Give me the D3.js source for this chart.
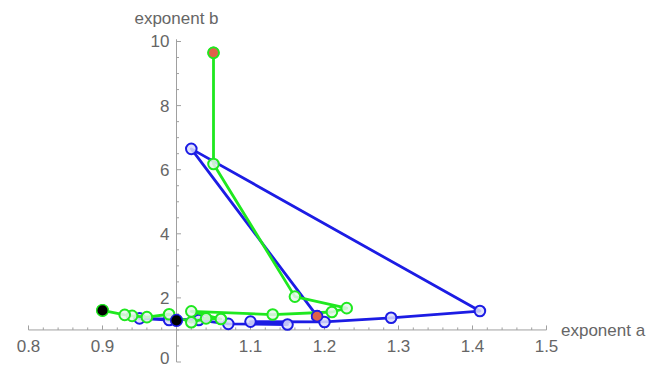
<!DOCTYPE html>
<html>
<head>
<meta charset="utf-8">
<script src="https://cdn.jsdelivr.net/npm/d3@7"></script>
<style>
  html, body { margin: 0; padding: 0; background: #fff; }
  svg { display: block; font-family: "Liberation Sans", Arial, sans-serif; }
</style>
</head>
<body>
<svg id="chart" width="660" height="368"></svg>
<script>
// Trajectory of fitted exponents (a, b) for two runs.
const blueA = [1.19, 1.02, 1.41, 1.29, 1.20, 1.10, 1.15, 1.07, 1.03, 0.95, 0.99, 1.00];
const blueB = [1.43, 6.65, 1.59, 1.38, 1.25, 1.26, 1.17, 1.19, 1.31, 1.36, 1.31, 1.30];

const greenA = [1.05, 1.05, 1.16, 1.23, 1.21, 1.13, 1.02, 1.06, 1.04, 1.02, 0.99, 0.96, 0.94, 0.93, 0.90];
const greenB = [9.65, 6.18, 2.04, 1.68, 1.56, 1.48, 1.58, 1.34, 1.36, 1.24, 1.49, 1.40, 1.44, 1.47, 1.61];

const xTickLabels = [0.8, 0.9, 1.1, 1.2, 1.3, 1.4, 1.5];
const yTickLabels = [0, 2, 4, 6, 8, 10];
const xAxisTitle = "exponent a";
const yAxisTitle = "exponent b";

const svg = d3.select("#chart");
const x = d3.scaleLinear().domain([0.8, 1.5]).range([28.5, 546.5]);
const y = d3.scaleLinear().domain([0, 10]).range([362, 41.5]);
const originA = 1.0, originB = 1.0;

const axisColor = "#a0a0a0";
const labelColor = "#666666";
const fontSize = 17;

// ---- axes ----
const gx = svg.append("g").attr("transform", `translate(0,${y(originB)})`);
gx.append("line").attr("x1", x(0.8)).attr("x2", x(1.5))
  .attr("stroke", axisColor).attr("stroke-width", 1);
d3.range(0, 36).map(i => 0.8 + i * 0.02).forEach(v => {
  const major = Math.abs(Math.round(v * 10) - v * 10) < 1e-6;
  gx.append("line").attr("x1", x(v)).attr("x2", x(v))
    .attr("y1", 0).attr("y2", major ? -4.5 : -2.5)
    .attr("stroke", axisColor).attr("stroke-width", 1);
});
gx.selectAll("text.tick").data(xTickLabels).join("text")
  .attr("x", d => x(d)).attr("y", 22)
  .attr("text-anchor", "middle").attr("fill", labelColor)
  .attr("font-size", fontSize).text(d => d.toFixed(1));
gx.append("text").attr("x", 561).attr("y", 6).attr("fill", labelColor)
  .attr("font-size", fontSize).text(xAxisTitle);

const gy = svg.append("g").attr("transform", `translate(${x(originA)},0)`);
gy.append("line").attr("y1", y(0)).attr("y2", y(10.07))
  .attr("stroke", axisColor).attr("stroke-width", 1);
d3.range(0, 21).map(i => i * 0.5).forEach(v => {
  const major = v % 2 === 0;
  gy.append("line").attr("y1", y(v)).attr("y2", y(v))
    .attr("x1", 0).attr("x2", major ? 4.5 : 2.5)
    .attr("stroke", axisColor).attr("stroke-width", 1);
});
// the label at 0 sits right at the lower edge, so it is nudged up to stay visible
gy.selectAll("text.tick").data(yTickLabels).join("text")
  .attr("x", -7).attr("y", d => d === 0 ? y(d) - 3.5 : y(d)).attr("dy", "0.35em")
  .attr("text-anchor", "end").attr("fill", labelColor)
  .attr("font-size", fontSize).text(d => d);
svg.append("text").attr("x", x(originA)).attr("y", 24)
  .attr("text-anchor", "middle").attr("fill", labelColor)
  .attr("font-size", fontSize).text(yAxisTitle);

// ---- series ----
const series = [
  { a: blueA, b: blueB, color: "#1c1ce4", fill: "rgba(220,222,250,0.85)" },
  { a: greenA, b: greenB, color: "#1fe81f", fill: "rgba(232,245,236,0.85)" }
];
const line = d3.line().x(d => x(d[0])).y(d => y(d[1]));

series.forEach(s => {
  const pts = s.a.map((v, i) => [v, s.b[i]]);
  const g = svg.append("g");
  g.append("path").attr("d", line(pts)).attr("fill", "none")
    .attr("stroke", s.color).attr("stroke-width", 2.8)
    .attr("stroke-linejoin", "round");
  g.selectAll("circle").data(pts).join("circle")
    .attr("cx", d => x(d[0])).attr("cy", d => y(d[1])).attr("r", 5.3)
    .attr("fill", s.fill).attr("stroke", s.color).attr("stroke-width", 2);
});

// start (red) and end (black) markers of each run
series.forEach(s => {
  const n = s.a.length;
  svg.append("circle").attr("cx", x(s.a[0])).attr("cy", y(s.b[0])).attr("r", 5.3)
    .attr("fill", "#e0604a").attr("stroke", s.color).attr("stroke-width", 1.6);
  svg.append("circle").attr("cx", x(s.a[n - 1])).attr("cy", y(s.b[n - 1])).attr("r", 5.8)
    .attr("fill", "#000").attr("stroke", s.color).attr("stroke-width", 1.4);
});
</script>
</body>
</html>
